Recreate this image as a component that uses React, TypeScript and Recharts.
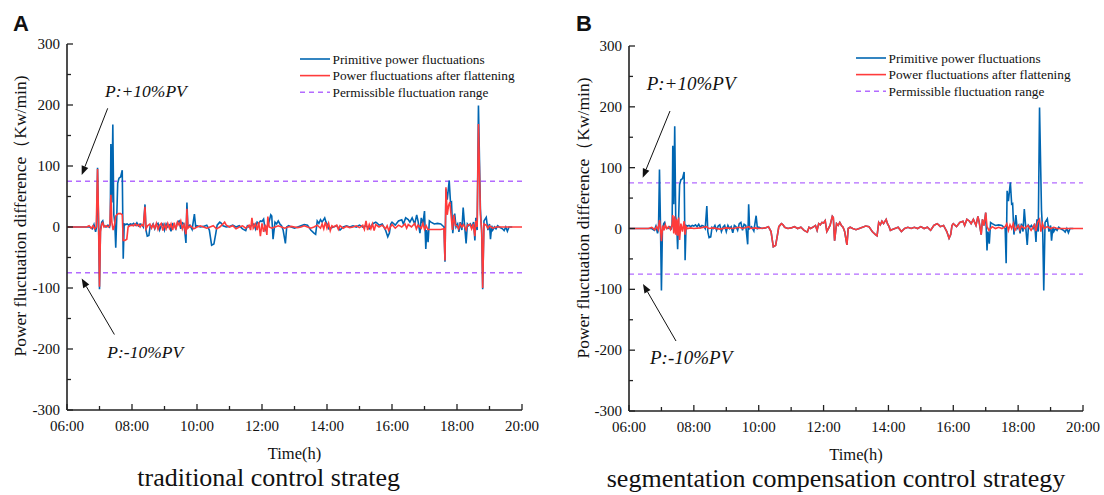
import React from 'react';
import { LineChart, Line, XAxis, YAxis, ReferenceLine, Legend } from 'recharts';

// ---------------- data ----------------
const hourTicks = [6, 7, 8, 9, 10, 11, 12, 13, 14, 15, 16, 17, 18, 19, 20];
const yTicks = [-300, -250, -200, -150, -100, -50, 0, 50, 100, 150, 200, 250, 300];
const limitUpper = 75;
const limitLower = -75;
const seriesNames = [
  'Primitive power fluctuations',
  'Power fluctuations after flattening',
  'Permissible fluctuation range',
];
const panelTitles = ['traditional control strateg', 'segmentation compensation control strategy'];
const panelLetters = ['A', 'B'];
const annotationTexts = ['P:+10%PV', 'P:-10%PV'];
const xTitle = 'Time(h)';
const yTitle = 'Power fluctuation difference（Kw/min)';

// [time in hours, value]
const primitive: [number, number][] = [
  [6.0, 0], [6.5, 0], [6.7, 0], [6.78, -3], [6.83, 4], [6.88, -8], [6.91, 0], [6.94, 97], [6.97, 8], [7.0, -102],
  [7.03, -4], [7.07, 8], [7.1, 10], [7.13, 2], [7.2, 0], [7.26, 3], [7.31, 0], [7.33, 5], [7.35, 136], [7.38, 40],
  [7.41, 168], [7.44, 20], [7.47, 8], [7.5, -34], [7.53, 15], [7.56, 72], [7.6, 80], [7.65, 82], [7.7, 93], [7.73, -52],
  [7.76, 5], [7.8, 4], [7.85, 5], [7.9, 3], [7.95, 5], [8.0, 4], [8.05, 6], [8.1, 3], [8.15, 7], [8.2, 2],
  [8.25, 5], [8.3, 4], [8.35, 0], [8.4, 37], [8.43, -5], [8.47, -15], [8.52, -14], [8.56, 2], [8.6, 0], [8.65, 5],
  [8.7, -3], [8.75, 4], [8.8, 6], [8.85, -5], [8.9, 2], [8.95, 5], [9.0, -5], [9.05, 5], [9.1, 0], [9.15, 3],
  [9.2, -7], [9.25, 5], [9.3, 3], [9.35, -3], [9.4, 8], [9.45, 10], [9.5, -3], [9.55, 7], [9.6, 5], [9.66, -26],
  [9.69, 40], [9.72, 0], [9.78, 3], [9.85, -4], [9.92, 21], [9.96, 0], [10.0, 2], [10.1, 0], [10.2, 1], [10.3, 3],
  [10.38, -5], [10.45, -30], [10.52, -28], [10.58, -10], [10.62, 3], [10.7, 8], [10.75, 6], [10.8, 2], [10.9, 0], [11.0, 1],
  [11.1, 3], [11.2, 0], [11.3, 2], [11.4, -3], [11.5, -6], [11.55, 2], [11.6, 0], [11.7, 3], [11.75, 5], [11.8, -3],
  [11.85, 8], [11.9, 6], [11.95, 10], [12.0, 9], [12.05, 13], [12.1, -5], [12.15, 0], [12.2, 5], [12.27, 20], [12.3, 18],
  [12.34, -20], [12.4, 8], [12.45, 5], [12.5, 10], [12.55, 5], [12.6, 2], [12.65, -5], [12.72, -27], [12.76, 0], [12.82, 2],
  [12.9, 0], [13.0, -2], [13.1, 0], [13.2, 2], [13.3, 4], [13.4, 3], [13.5, -5], [13.6, -10], [13.65, -12], [13.7, 10],
  [13.75, 6], [13.8, 12], [13.85, 8], [13.93, 15], [13.97, 8], [14.02, 3], [14.06, -3], [14.1, -2], [14.2, 0], [14.3, 2],
  [14.4, -5], [14.5, 0], [14.6, 2], [14.7, 0], [14.8, 2], [14.9, 0], [15.0, 3], [15.1, 0], [15.2, 2], [15.3, -3],
  [15.4, 5], [15.5, 8], [15.55, 6], [15.6, 3], [15.7, 5], [15.8, -5], [15.87, -16], [15.92, -10], [15.96, 5], [16.0, 8],
  [16.1, 3], [16.2, 10], [16.3, 12], [16.35, 5], [16.42, 15], [16.5, 12], [16.55, 8], [16.62, 15], [16.7, 5], [16.76, 20],
  [16.8, 10], [16.86, -10], [16.9, 15], [16.95, 5], [17.0, 26], [17.04, -36], [17.07, -5], [17.11, -25], [17.15, 10], [17.2, 8],
  [17.3, 5], [17.4, 6], [17.5, 5], [17.56, 2], [17.6, 0], [17.63, -57], [17.66, 62], [17.7, 45], [17.76, 76], [17.8, 40],
  [17.83, 41], [17.87, -10], [17.93, 22], [17.97, 0], [18.02, 5], [18.06, -8], [18.1, 8], [18.15, -5], [18.19, 32], [18.23, 5],
  [18.28, -27], [18.32, 5], [18.36, 2], [18.41, 5], [18.46, 0], [18.51, 8], [18.55, -22], [18.58, 15], [18.62, -5], [18.66, 199],
  [18.72, 30], [18.76, -10], [18.79, -102], [18.83, 10], [18.9, 16], [18.95, -5], [19.0, 5], [19.03, -20], [19.07, 2], [19.1, -5],
  [19.15, 0], [19.2, -3], [19.25, 2], [19.3, 0], [19.4, -3], [19.45, -6], [19.5, 0], [19.55, -7], [19.6, 0], [19.7, 0],
];

const flattenedTraditional: [number, number][] = [
  [6.0, 0], [6.6, 0], [6.68, 2], [6.75, -2], [6.8, 2], [6.85, -3], [6.9, 0], [6.94, 95], [6.97, 15], [7.0, -98],
  [7.03, -8], [7.07, 5], [7.1, 7], [7.14, 0], [7.2, 2], [7.27, 0], [7.32, 3], [7.35, 53], [7.38, 8], [7.42, -5],
  [7.46, 3], [7.5, 18], [7.53, 20], [7.58, 22], [7.65, 22], [7.7, 20], [7.73, -22], [7.78, -22], [7.84, -20], [7.88, 0],
  [7.93, 2], [8.0, 3], [8.05, 2], [8.1, 5], [8.15, 2], [8.2, 4], [8.25, 0], [8.3, 4], [8.35, 2], [8.4, 33],
  [8.43, -3], [8.48, 2], [8.55, 5], [8.6, -2], [8.65, 4], [8.7, -2], [8.75, 6], [8.8, -4], [8.85, 3], [8.9, 6],
  [8.95, -6], [9.0, 4], [9.05, -3], [9.1, 6], [9.15, -2], [9.2, 5], [9.25, -5], [9.3, 7], [9.35, -4], [9.4, 8],
  [9.45, 3], [9.5, 10], [9.55, -3], [9.6, 4], [9.66, -12], [9.69, 30], [9.72, -2], [9.8, 2], [9.9, -3], [10.0, 0],
  [10.1, 2], [10.2, 0], [10.3, -2], [10.4, 0], [10.5, 2], [10.6, -3], [10.7, 0], [10.8, 5], [10.85, 8], [10.9, 3],
  [11.0, 0], [11.1, 2], [11.2, -3], [11.3, 0], [11.4, 2], [11.5, -2], [11.6, 3], [11.65, -5], [11.69, 15], [11.73, -2],
  [11.8, 5], [11.85, -5], [11.9, 8], [11.95, -15], [12.0, 6], [12.05, -8], [12.1, 4], [12.15, -13], [12.18, 17], [12.22, 0],
  [12.3, -2], [12.4, 0], [12.5, 2], [12.6, 0], [12.7, -2], [12.8, 0], [12.9, 1], [13.0, 0], [13.1, -1], [13.2, 0],
  [13.3, 2], [13.4, 0], [13.5, -2], [13.6, 0], [13.7, 3], [13.8, -2], [13.85, 5], [13.9, -3], [13.95, 8], [14.0, -2],
  [14.05, 6], [14.1, -6], [14.15, 2], [14.2, 0], [14.3, 3], [14.35, -4], [14.4, 2], [14.5, -2], [14.6, 1], [14.7, -1],
  [14.8, 0], [14.9, 2], [15.0, -1], [15.1, 3], [15.15, -4], [15.2, 10], [15.25, -5], [15.3, 4], [15.35, -3], [15.4, 5],
  [15.45, -6], [15.5, 4], [15.6, 0], [15.7, 3], [15.8, -3], [15.85, 2], [15.9, -6], [15.95, 0], [16.0, 4], [16.1, -2],
  [16.2, 3], [16.3, 0], [16.4, 5], [16.45, -2], [16.5, 4], [16.6, 0], [16.7, 6], [16.75, -3], [16.8, 3], [16.9, -2],
  [16.95, 6], [17.0, -4], [17.05, 2], [17.1, -4], [17.3, -4], [17.5, -4], [17.6, -3], [17.63, -55], [17.66, 65], [17.7, 20],
  [17.74, 35], [17.78, 41], [17.82, 18], [17.86, -5], [17.9, 20], [17.95, 3], [18.0, 2], [18.05, -3], [18.1, 5], [18.15, 0],
  [18.2, 4], [18.28, -5], [18.32, 3], [18.4, 4], [18.45, -3], [18.5, 5], [18.55, -15], [18.58, 10], [18.62, 0], [18.66, 169],
  [18.72, 20], [18.76, -5], [18.79, -100], [18.83, 5], [18.9, 3], [18.95, -2], [19.0, 2], [19.1, -2], [19.2, 0], [20.0, 0],
];

const flattenedSegmented: [number, number][] = [
  [6.0, 0], [6.6, 0], [6.7, 2], [6.8, -2], [6.85, 3], [6.9, -2], [6.94, 14], [6.97, 2], [7.0, -21], [7.04, 5],
  [7.08, -3], [7.12, 6], [7.16, 0], [7.22, 3], [7.28, -2], [7.33, 6], [7.35, 22], [7.38, -8], [7.41, 20], [7.44, -10],
  [7.47, 15], [7.5, -12], [7.53, 18], [7.56, -19], [7.6, 8], [7.65, -5], [7.7, 12], [7.73, -10], [7.76, 3], [7.8, 0],
  [7.9, 1], [8.0, 0], [8.2, 1], [8.4, 3], [8.45, 0], [8.6, 1], [8.8, -1], [9.0, 1], [9.2, 0], [9.4, 2],
  [9.5, 0], [9.7, 3], [9.75, 0], [9.9, 1], [10.0, 0], [10.2, 1], [10.3, 3], [10.38, -5], [10.45, -30], [10.52, -28],
  [10.58, -10], [10.62, 3], [10.7, 8], [10.75, 6], [10.8, 2], [10.9, 0], [11.0, 1], [11.1, 3], [11.2, 0], [11.3, 2],
  [11.4, -3], [11.5, -6], [11.55, 2], [11.6, 0], [11.7, 3], [11.75, 5], [11.8, -3], [11.85, 8], [11.9, 6], [11.95, 10],
  [12.0, 9], [12.05, 13], [12.1, -5], [12.15, 0], [12.2, 5], [12.27, 20], [12.3, 18], [12.34, -20], [12.4, 8], [12.45, 5],
  [12.5, 10], [12.55, 5], [12.6, 2], [12.65, -5], [12.72, -27], [12.76, 0], [12.82, 2], [12.9, 0], [13.0, -2], [13.1, 0],
  [13.2, 2], [13.3, 4], [13.4, 3], [13.5, -5], [13.6, -10], [13.65, -12], [13.7, 10], [13.75, 6], [13.8, 12], [13.85, 8],
  [13.93, 15], [13.97, 8], [14.02, 3], [14.06, -3], [14.1, -2], [14.2, 0], [14.3, 2], [14.4, -5], [14.5, 0], [14.6, 2],
  [14.7, 0], [14.8, 2], [14.9, 0], [15.0, 3], [15.1, 0], [15.2, 2], [15.3, -3], [15.4, 5], [15.5, 8], [15.55, 6],
  [15.6, 3], [15.7, 5], [15.8, -5], [15.87, -16], [15.92, -10], [15.96, 5], [16.0, 8], [16.1, 3], [16.2, 10], [16.3, 12],
  [16.35, 5], [16.42, 15], [16.5, 12], [16.55, 8], [16.62, 15], [16.7, 5], [16.76, 20], [16.8, 10], [16.86, -10], [16.9, 15],
  [16.95, 5], [17.0, 26], [17.04, 3], [17.1, -3], [17.2, 3], [17.3, 0], [17.4, 2], [17.5, 0], [17.6, 3], [17.65, 8],
  [17.7, -3], [17.75, 6], [17.8, 0], [17.85, 8], [17.9, -3], [18.0, 5], [18.05, -2], [18.1, 4], [18.2, 0], [18.3, 5],
  [18.4, -3], [18.5, 6], [18.55, -4], [18.6, 10], [18.66, 15], [18.7, -5], [18.75, 8], [18.8, 0], [18.9, 3], [19.0, 0],
  [19.1, 2], [19.2, 0], [20.0, 0],
];

// ---------------- styling ----------------
const SERIF = '"Liberation Serif", "Times New Roman", serif';
const SANS = '"Liberation Sans", Arial, sans-serif';
const AX = '#222';
const BLUE = '#0066b2';
const RED = '#ff3b3b';
const PURPLE = '#b36bff';
const serifStyle = { fontFamily: SERIF };

const toRows = (a: [number, number][]) => a.map(([t, v]) => ({ t, v }));
const fmtHour = (h: number) => `${String(h).padStart(2, '0')}:00`;

const BottomTick = (p: any) => {
  const { x, y, payload } = p;
  const v = payload.value;
  const major = v % 2 === 0;
  return (
    <g>
      <line x1={x} y1={y} x2={x} y2={y - (major ? 6 : 4)} stroke={AX} strokeWidth={1.3} />
      {major && (
        <text x={x} y={y + 20.5} textAnchor="middle" fontSize={15} fontFamily={SERIF} style={serifStyle} fill="#111">
          {fmtHour(v)}
        </text>
      )}
    </g>
  );
};
const TopTick = (p: any) => {
  const { x, y, payload } = p;
  const major = payload.value % 2 === 0;
  return <line x1={x} y1={y} x2={x} y2={y + (major ? 6 : 4)} stroke={AX} strokeWidth={1.3} />;
};
const LeftTick = (p: any) => {
  const { x, y, payload } = p;
  const v = payload.value;
  const major = v % 100 === 0;
  return (
    <g>
      <line x1={x} y1={y} x2={x + (major ? 6 : 4)} y2={y} stroke={AX} strokeWidth={1.3} />
      {major && (
        <text x={x - 7} y={y + 5} textAnchor="end" fontSize={15} fontFamily={SERIF} style={serifStyle} fill="#111">
          {v}
        </text>
      )}
    </g>
  );
};
const RightTick = (p: any) => {
  const { x, y, payload } = p;
  const major = payload.value % 100 === 0;
  return <line x1={x} y1={y} x2={x - (major ? 6 : 4)} y2={y} stroke={AX} strokeWidth={1.3} />;
};

const LegendBox = () => {
  const rows = [
    { name: seriesNames[0], color: BLUE, dash: undefined as string | undefined },
    { name: seriesNames[1], color: RED, dash: undefined as string | undefined },
    { name: seriesNames[2], color: PURPLE, dash: '5 4' },
  ];
  return (
    <svg width={240} height={52} style={{ overflow: 'visible', display: 'block' }}>
      {rows.map((r, i) => {
        const cy = 9 + i * 16.6;
        return (
          <g key={r.name}>
            <line x1={0} x2={30} y1={cy} y2={cy} stroke={r.color} strokeWidth={1.6} strokeDasharray={r.dash} />
            <text x={32.5} y={cy + 4.5} fontSize={13.3} fontFamily={SERIF} style={serifStyle} fill="#111">
              {r.name}
            </text>
          </g>
        );
      })}
    </svg>
  );
};

type PanelProps = {
  left: number;
  width: number;
  margin: { top: number; right: number; bottom: number; left: number };
  flattened: [number, number][];
  legendPos: { left: number; top: number };
};

const Panel = ({ left, width, margin, flattened, legendPos }: PanelProps) => (
  <div style={{ position: 'absolute', left, top: 0 }}>
    <LineChart width={width} height={495} margin={margin} style={serifStyle}>
      <XAxis
        type="number"
        dataKey="t"
        domain={[6, 20]}
        ticks={hourTicks}
        interval={0}
        height={30}
        tickSize={0}
        tickMargin={0}
        tickLine={false}
        axisLine={{ stroke: AX, strokeWidth: 1.6 }}
        tick={<BottomTick />}
      />
      <XAxis
        xAxisId="top"
        orientation="top"
        type="number"
        dataKey="t"
        domain={[6, 20]}
        ticks={hourTicks}
        interval={0}
        height={0}
        tickSize={0}
        tickMargin={0}
        tickLine={false}
        axisLine={{ stroke: AX, strokeWidth: 1.6 }}
        tick={<TopTick />}
      />
      <YAxis
        type="number"
        domain={[-300, 300]}
        ticks={yTicks}
        interval={0}
        width={45}
        tickSize={0}
        tickMargin={0}
        tickLine={false}
        axisLine={{ stroke: AX, strokeWidth: 1.6 }}
        tick={<LeftTick />}
      />
      <YAxis
        yAxisId="right"
        orientation="right"
        type="number"
        domain={[-300, 300]}
        ticks={yTicks}
        interval={0}
        width={0}
        tickSize={0}
        tickMargin={0}
        tickLine={false}
        axisLine={{ stroke: AX, strokeWidth: 1.6 }}
        tick={<RightTick />}
      />
      <ReferenceLine y={limitUpper} stroke={PURPLE} strokeWidth={1.3} strokeDasharray="5 4" />
      <ReferenceLine y={limitLower} stroke={PURPLE} strokeWidth={1.3} strokeDasharray="5 4" />
      <Line
        data={toRows(primitive)}
        dataKey="v"
        name={seriesNames[0]}
        type="linear"
        stroke={BLUE}
        strokeWidth={1.6}
        dot={false}
        activeDot={false}
        isAnimationActive={false}
      />
      <Line
        data={toRows(flattened)}
        dataKey="v"
        name={seriesNames[1]}
        type="linear"
        stroke={RED}
        strokeWidth={1.6}
        dot={false}
        activeDot={false}
        isAnimationActive={false}
      />
      <Legend
        layout="vertical"
        align="center"
        verticalAlign="middle"
        wrapperStyle={{ left: legendPos.left, top: legendPos.top, width: 240, height: 52, right: 'auto', bottom: 'auto' }}
        content={() => <LegendBox />}
      />
    </LineChart>
  </div>
);

const Arrow = ({ x1, y1, x2, y2 }: { x1: number; y1: number; x2: number; y2: number }) => {
  const dx = x2 - x1;
  const dy = y2 - y1;
  const len = Math.sqrt(dx * dx + dy * dy);
  const ux = dx / len;
  const uy = dy / len;
  const hl = 9;
  const hw = 3.5;
  const bx = x2 - ux * hl;
  const by = y2 - uy * hl;
  const pts = `${x2},${y2} ${bx - uy * hw},${by + ux * hw} ${bx + uy * hw},${by - ux * hw}`;
  return (
    <g>
      <line x1={x1} y1={y1} x2={bx} y2={by} stroke="#111" strokeWidth={1} />
      <polygon points={pts} fill="#111" />
    </g>
  );
};

const Overlay = () => (
  <svg
    width={1104}
    height={495}
    style={{ position: 'absolute', left: 0, top: 0, pointerEvents: 'none', overflow: 'visible', fontFamily: SERIF }}
  >
    {/* Panel A */}
    <text x={13} y={31} fontSize={22} fontWeight="bold" fontFamily={SANS} style={{ fontFamily: SANS }} fill="#111">{panelLetters[0]}</text>
    <text transform="translate(25.5,216) rotate(-90)" textAnchor="middle" fontSize={17.5} fill="#111">{yTitle}</text>
    <text x={294.5} y={458.5} textAnchor="middle" fontSize={16.5} fill="#111">{xTitle}</text>
    <text x={268.7} y={486} textAnchor="middle" fontSize={26} fill="#111">{panelTitles[0]}</text>
    <text x={105} y={97} fontSize={17.5} fontStyle="italic" fill="#111">{annotationTexts[0]}</text>
    <Arrow x1={107.7} y1={108.3} x2={81.7} y2={175} />
    <text x={107.3} y={357.5} fontSize={17.5} fontStyle="italic" fill="#111">{annotationTexts[1]}</text>
    <Arrow x1={114.4} y1={334.5} x2={81.7} y2={278.6} />

    {/* Panel B */}
    <text x={576} y={31} fontSize={22} fontWeight="bold" fontFamily={SANS} style={{ fontFamily: SANS }} fill="#111">{panelLetters[1]}</text>
    <text transform="translate(588.5,218) rotate(-90)" textAnchor="middle" fontSize={17.5} fill="#111">{yTitle}</text>
    <text x={856} y={459.5} textAnchor="middle" fontSize={16.5} fill="#111">{xTitle}</text>
    <text x={836} y={487} textAnchor="middle" fontSize={26} fill="#111">{panelTitles[1]}</text>
    <text x={646.7} y={90} fontSize={19} fontStyle="italic" fill="#111">{annotationTexts[0]}</text>
    <Arrow x1={670} y1={111} x2={642.7} y2={177.7} />
    <text x={650} y={364} fontSize={19} fontStyle="italic" fill="#111">{annotationTexts[1]}</text>
    <Arrow x1={676} y1={341} x2={643} y2={284} />
  </svg>
);

export default function App() {
  return (
    <div
      style={{
        position: 'absolute',
        left: 0,
        top: 0,
        width: 1104,
        height: 495,
        background: '#fff',
        overflow: 'hidden',
        fontFamily: SERIF,
      }}
    >
      <Panel
        left={0}
        width={560}
        margin={{ top: 44, right: 38, bottom: 55, left: 22 }}
        flattened={flattenedTraditional}
        legendPos={{ left: 300, top: 50 }}
      />
      <Panel
        left={560}
        width={544}
        margin={{ top: 46, right: 21, bottom: 54, left: 24 }}
        flattened={flattenedSegmented}
        legendPos={{ left: 296, top: 49 }}
      />
      <Overlay />
    </div>
  );
}
